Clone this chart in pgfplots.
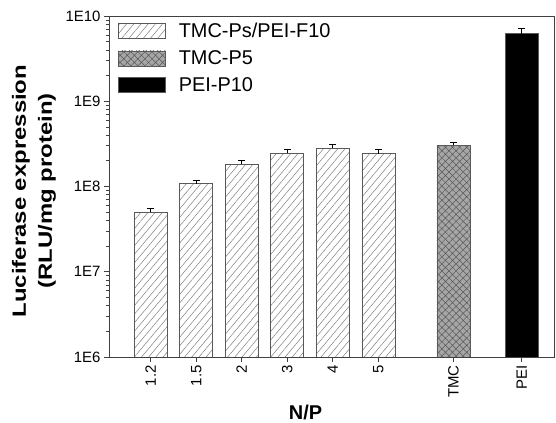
\documentclass[border=0pt]{standalone}
\usepackage{fontspec}
\setmainfont{Liberation Sans}
\usepackage{pgfplots}
\pgfplotsset{compat=1.18}
\usetikzlibrary{patterns,patterns.meta}
\pgfplotsset{myerr/.style={error bars/y dir=plus, error bars/y explicit,
    error bars/error bar style={black, line width=0.8bp},
    error bars/error mark options={rotate=90, mark size=3.5bp, black, line width=0.8bp}}}
\begin{document}
\begin{tikzpicture}
\useasboundingbox (-109bp,-66bp) rectangle (447bp,341bp+16bp);
\begin{axis}[
  at={(0,0)}, anchor=south west,
  scale only axis, width=445bp, height=341bp,
  ymode=log, ymin=1e6, ymax=1e10,
  xmin=-0.917, xmax=8.86,
  ybar, bar width=33bp, bar shift=0pt,
  axis line style={black!75, line width=0.8bp},
  tick align=outside, xtick pos=left, ytick pos=left,
  major tick length=5bp, minor tick length=3bp,
  tick style={black!75, line width=0.7bp},
  ytick={1e6,1e7,1e8,1e9,1e10},
  yticklabels={1E6,1E7,1E8,1E9,1E10},
  xtick={0,1,2,3,4,5,6.65,8.15},
  xticklabels={1.2,1.5,2,3,4,5,TMC,PEI},
  xticklabel style={rotate=90, anchor=east, font=\fontsize{15}{17}\selectfont},
  yticklabel style={font=\fontsize{15}{17}\selectfont},
  /pgf/number format/assume math mode=true,
  legend image code/.code={\draw[#1] (0bp,-7.5bp) rectangle (47bp,7.5bp);},
  legend style={draw=none, fill=none, anchor=north west, at={(axis description cs:0,1)},
    xshift=9bp, yshift=-6bp, inner sep=0pt, row sep=9.5bp,
    nodes={inner xsep=0pt, inner ysep=1bp},
    /tikz/every odd column/.style={column sep=13bp},
    font=\fontsize{20}{24}\selectfont},
  legend cell align=left,
]
\addplot[myerr, draw=black!65, line width=0.6bp, fill=white,
  postaction={pattern={Lines[angle=50,distance=5.5bp,line width=0.5bp]}, pattern color=black!50}]
  coordinates {(0,5.0e7) +- (0,0.5e7)
               (1,1.08e8) +- (0,0.10e8)
               (2,1.83e8) +- (0,0.20e8)
               (3,2.47e8) +- (0,0.25e8)
               (4,2.82e8) +- (0,0.28e8)
               (5,2.42e8) +- (0,0.33e8)};
\addlegendentry{TMC-Ps/PEI-F10}
\addplot[myerr, draw=black!65, line width=0.6bp, fill=black!35,
  postaction={pattern={Hatch[angle=45,distance=5bp,line width=0.5bp]}, pattern color=black!65}]
  coordinates {(6.65,3.04e8) +- (0,0.23e8)};
\addlegendentry{TMC-P5}
\addplot[myerr, draw=black!65, line width=0.6bp, fill=black]
  coordinates {(8.15,6.19e9) +- (0,1.0e9)};
\addlegendentry{PEI-P10}
\end{axis}
\node[rotate=90, yscale=0.8, align=center, font=\fontsize{24}{32.5}\selectfont\bfseries] at (-75bp,166bp) {Luciferase expression\\(RLU/mg protein)};
\node[anchor=base, font=\fontsize{20}{24}\selectfont\bfseries] at (196.5bp,-62.5bp) {N/P};
\end{tikzpicture}
\end{document}
